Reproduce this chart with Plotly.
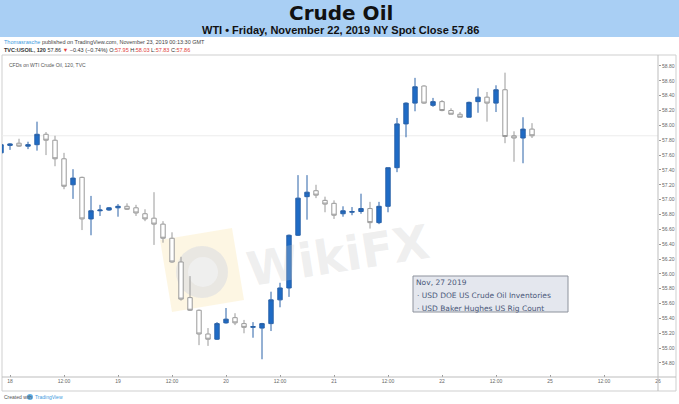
import plotly.graph_objects as go

# ---- data (2h candles, WTI CFD) ----
opens  = [57.63,57.73,57.76,57.72,57.74,57.88,57.80,57.55,57.20,57.30,
          56.74,56.85,56.86,56.89,56.91,56.89,56.81,56.75,56.67,56.48,
          56.16,55.68,55.51,55.19,55.12,55.34,55.41,55.33,55.28,55.27,
          55.33,55.65,55.81,56.52,57.04,57.12,56.99,56.95,56.81,56.83,
          56.84,56.88,56.69,56.91,57.43,58.02,58.30,58.53,58.27,58.32,
          58.20,58.15,58.11,58.32,58.38,58.30,58.48,57.86,57.83,57.95]
highs  = [57.76,57.76,57.82,57.78,58.05,57.91,57.86,57.63,57.41,57.31,
          57.05,56.93,56.90,56.94,56.95,56.93,56.87,57.10,56.71,56.56,
          56.23,55.97,55.52,55.27,55.35,55.54,55.47,55.38,55.35,55.34,
          55.76,55.88,56.53,57.33,57.33,57.20,57.04,56.99,56.91,56.90,
          57.08,56.97,56.97,57.43,58.10,58.31,58.64,58.54,58.37,58.34,
          58.23,58.18,58.32,58.50,58.45,58.54,58.71,57.92,58.11,58.03]
lows   = [57.61,57.67,57.71,57.68,57.66,57.60,57.45,57.14,57.01,56.59,
          56.52,56.78,56.85,56.77,56.86,56.78,56.71,56.39,56.42,56.15,
          55.64,55.50,55.04,55.03,55.11,55.33,55.31,55.20,55.14,54.85,
          55.23,55.55,55.69,56.51,56.73,57.02,56.83,56.74,56.77,56.79,
          56.81,56.61,56.67,56.83,57.37,57.84,58.19,58.29,58.25,58.19,
          58.15,58.11,58.11,58.17,58.05,58.18,57.76,57.51,57.49,57.83]
closes = [57.74,57.75,57.72,57.74,57.88,57.80,57.55,57.18,57.29,56.74,
          56.85,56.86,56.89,56.91,56.87,56.82,56.74,56.67,56.48,56.16,
          55.66,55.51,55.19,55.12,55.33,55.39,55.34,55.28,55.29,55.33,
          55.65,55.81,56.52,57.02,57.10,57.06,56.94,56.79,56.85,56.84,
          56.88,56.69,56.91,57.43,58.02,58.30,58.52,58.30,58.32,58.20,
          58.15,58.11,58.31,58.38,58.30,58.48,57.85,57.83,57.95,57.86]
candle_idx = list(range(len(opens)))

x_tick_idx    = [1, 7, 13, 19, 25, 31, 37, 43, 49, 55, 61, 67, 73]
x_tick_labels = ["18", "12:00", "19", "12:00", "20", "12:00", "21", "12:00",
                 "22", "12:00", "25", "12:00", "26"]
y_tick_vals   = [54.8, 55.0, 55.2, 55.4, 55.6, 55.8, 56.0, 56.2, 56.4, 56.6,
                 56.8, 57.0, 57.2, 57.4, 57.6, 57.8, 58.0, 58.2, 58.4, 58.6, 58.8]
last_close = 57.86

events_date = "Nov, 27 2019"
events = ["USD DOE US Crude Oil Inventories", "USD Baker Hughes US Rig Count"]

# ---- layout geometry helpers (pixel -> paper) ----
W, H = 679, 404
ML, MR, MT, MB = 2, 21, 55, 27
PW, PH = W - ML - MR, H - MT - MB


def PX(x):
    return (x - ML) / PW


def PY(y):
    return (H - MB - y) / PH


fig = go.Figure()
fig.add_trace(go.Candlestick(
    x=candle_idx, open=opens, high=highs, low=lows, close=closes,
    increasing=dict(fillcolor="#1e6bc6", line=dict(color="#2a62a8", width=1)),
    decreasing=dict(fillcolor="#ffffff", line=dict(color="#9a9a9a", width=1)),
    whiskerwidth=0, showlegend=False, hoverinfo="skip",
))

shapes = []
# header band
shapes.append(dict(type="rect", xref="paper", yref="paper",
                   x0=PX(0), x1=PX(W), y0=PY(37), y1=PY(0),
                   fillcolor="#a9cff4", line=dict(width=0), layer="below"))
# chart frame
line_c = "#cfcfcf"
shapes.append(dict(type="rect", xref="paper", yref="paper",
                   x0=PX(2), x1=PX(676), y0=PY(391), y1=PY(55),
                   line=dict(color=line_c, width=1), layer="below"))
shapes.append(dict(type="line", xref="paper", yref="paper",
                   x0=PX(658), x1=PX(658), y0=PY(391), y1=PY(55),
                   line=dict(color="#bdbdbd", width=1)))
shapes.append(dict(type="line", xref="paper", yref="paper",
                   x0=PX(2), x1=PX(676), y0=PY(377), y1=PY(377),
                   line=dict(color="#bdbdbd", width=1)))
# last price line
shapes.append(dict(type="line", xref="paper", yref="y",
                   x0=0, x1=1, y0=last_close, y1=last_close,
                   line=dict(color="#ececec", width=1), layer="below"))
# watermark logo (tilted square + disc)
shapes.append(dict(type="path", xref="paper", yref="paper",
                   path="M {a} {b} L {c} {d} L {e} {f} L {g} {h} Z".format(
                       a=PX(160), b=PY(240), c=PX(232), d=PY(228),
                       e=PX(244), f=PY(300), g=PX(172), h=PY(312)),
                   fillcolor="rgba(253,244,220,0.8)", line=dict(width=0),
                   layer="below"))
shapes.append(dict(type="circle", xref="paper", yref="paper",
                   x0=PX(176), x1=PX(228), y0=PY(298), y1=PY(246),
                   fillcolor="rgba(225,225,225,0.75)", line=dict(width=0),
                   layer="below"))
shapes.append(dict(type="circle", xref="paper", yref="paper",
                   x0=PX(188), x1=PX(218), y0=PY(287), y1=PY(257),
                   fillcolor="rgba(240,240,240,0.9)", line=dict(width=0),
                   layer="below"))
# events box
shapes.append(dict(type="rect", xref="paper", yref="paper",
                   x0=PX(413), x1=PX(568), y0=PY(312), y1=PY(276),
                   fillcolor="#e4e7ee", line=dict(color="#8d929c", width=1)))
# TradingView small icon
shapes.append(dict(type="circle", xref="paper", yref="paper",
                   x0=PX(27), x1=PX(33), y0=PY(400), y1=PY(394),
                   fillcolor="#5fb0e6", line=dict(width=0)))

ann = []


def A(text, x, y, size, color="#333", family="Liberation Sans", xa="left",
      ya="middle", angle=0):
    ann.append(dict(text=text, x=PX(x), y=PY(y), xref="paper", yref="paper",
                    xanchor=xa, yanchor=ya, showarrow=False, textangle=angle,
                    borderpad=0,
                    font=dict(size=size, color=color, family=family)))


A("<b>Crude Oil</b>", 341, 13, 20, "#111", "DejaVu Sans", xa="center")
A("<b>WTI \u2022 Friday, November 22, 2019 NY Spot Close 57.86</b>", 340, 30, 11,
  "#111", "Liberation Sans", xa="center")
A("<span style='color:#3d9be0'>Thomasrasche</span> published on TradingView.com, "
  "November 23, 2019 00:13:30 GMT", 3, 42, 5.5, "#444")
red = "#e0413a"
A("<b>TVC:USOIL, 120</b> 57.86 <span style='color:%s'>\u25bc</span> \u22120.43 "
  "(\u22120.74%%) O:<span style='color:%s'>57.95</span> H:<span style='color:%s'>58.03</span> "
  "L:<span style='color:%s'>57.83</span> C:<span style='color:%s'>57.86</span>"
  % (red, red, red, red, red), 3, 50, 5.5, "#333")
A("CFDs on WTI Crude Oil, 120, TVC", 8, 65, 5, "#555")
A("<b>WikiFX</b>", 338, 255, 47, "rgba(200,200,200,0.30)", "DejaVu Sans",
  xa="center", angle=-9)
A(events_date, 415, 282, 7.5, "#4a5879", "DejaVu Sans")
A("\u00b7 " + events[0], 416, 295, 7.5, "#4a5879", "DejaVu Sans")
A("\u00b7 " + events[1], 416, 308, 7.5, "#4a5879", "DejaVu Sans")
A("Created with", 3, 397, 5, "#555")
A("TradingView", 34, 397, 5, "#3d9be0")

fig.update_layout(
    width=W, height=H, autosize=False,
    margin=dict(l=ML, r=MR, t=MT, b=MB, pad=0, autoexpand=False),
    paper_bgcolor="#ffffff", plot_bgcolor="#ffffff",
    shapes=shapes, annotations=ann, showlegend=False,
    xaxis=dict(range=[0.111, 73.0], tickmode="array", tickvals=x_tick_idx,
               ticktext=x_tick_labels, showgrid=False, zeroline=False,
               showline=False, ticks="inside", ticklen=2, tickcolor="#999",
               automargin=False,
               tickfont=dict(size=5, color="#666", family="Liberation Sans"),
               rangeslider=dict(visible=False), fixedrange=True),
    yaxis=dict(range=[54.611, 58.948], side="right", tickmode="array",
               tickvals=y_tick_vals, tickformat=".2f", showgrid=False,
               zeroline=False, showline=False, ticks="outside", ticklen=2,
               tickcolor="#999", automargin=False,
               tickfont=dict(size=5, color="#666", family="Liberation Sans"),
               fixedrange=True),
)

fig.write_html("out.html", config={"displayModeBar": False},
               post_script="document.body.style.margin='0';")
